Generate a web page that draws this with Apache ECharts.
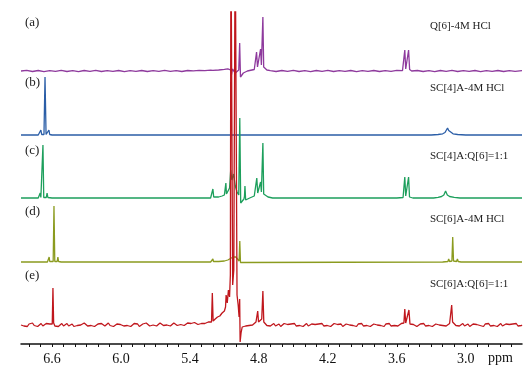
<!DOCTYPE html>
<html>
<head>
<meta charset="utf-8">
<script src="https://cdn.jsdelivr.net/npm/echarts@6/dist/echarts.min.js"></script>
<style>
  html, body { margin: 0; padding: 0; background: #fff; }
  #chart { width: 530px; height: 378px; }
</style>
</head>
<body>
<div id="chart"></div>
<script>
// chemical shift (ppm) / intensity pairs
var specA = [[6.87,0],[6.82,0.6],[6.77,-0.5],[6.72,0.5],[6.67,-0.6],[6.62,0.4],[6.57,-0.4],[6.52,0.6],[6.47,-0.5],[6.42,0.3],[6.37,-0.6],[6.32,0.5],[6.27,-0.3],[6.22,0.6],[6.17,-0.5],[6.12,0.4],[6.07,-0.4],[6.02,0.5],[5.97,-0.6],[5.92,0.4],[5.87,-0.3],[5.82,0.5],[5.77,-0.5],[5.72,0.4],[5.67,-0.4],[5.62,0.6],[5.57,-0.3],[5.52,0.4],[5.47,-0.5],[5.42,0.5],[5.37,0.1],[5.32,0.6],[5.27,0.3],[5.22,0.8],[5.21,1.8],[5.2,0.7],[5.15,1],[5.1,1.6],[5.07,2.2],[5.055,3.5],[5.045,1],[5.04,-5],[5.03,2],[5.015,4],[5.005,-2],[4.99,-1],[4.975,1],[4.967,28],[4.96,-6],[4.95,-4],[4.935,-2],[4.92,-1],[4.9,0],[4.88,0.5],[4.86,1],[4.84,1.5],[4.83,3],[4.82,19],[4.812,4],[4.8,6],[4.785,22],[4.778,6],[4.77,8],[4.765,54],[4.758,4],[4.745,2],[4.73,1],[4.7,0.3],[4.65,-0.5],[4.6,0.5],[4.55,-0.4],[4.5,0.6],[4.45,-0.5],[4.4,0.3],[4.35,-0.6],[4.3,0.5],[4.25,-0.3],[4.2,0.6],[4.15,-0.5],[4.1,0.4],[4.05,-0.4],[4.0,0.5],[3.95,-0.6],[3.9,0.4],[3.85,-0.3],[3.8,0.5],[3.75,-0.5],[3.7,0.4],[3.65,-0.4],[3.6,0.6],[3.55,0.4],[3.537,2],[3.53,21],[3.522,2],[3.505,2],[3.497,21],[3.488,1.5],[3.47,0],[3.42,0.5],[3.37,-0.5],[3.32,0.4],[3.27,-0.6],[3.22,0.5],[3.17,-0.3],[3.12,0.6],[3.07,-0.5],[3.02,0.4],[2.97,-0.4],[2.92,0.5],[2.87,-0.6],[2.82,0.4],[2.77,-0.3],[2.72,0.5],[2.67,-0.5],[2.62,0.4],[2.57,-0.4],[2.51,0.3]];

var specB = [[6.87,0],[6.72,0],[6.705,0.5],[6.697,5],[6.69,0.5],[6.67,0.5],[6.661,58],[6.652,0.5],[6.635,0.5],[6.627,5],[6.62,0.5],[6.6,0],[5.3,0],[5.21,0],[5.205,1.5],[5.198,0],[5.06,0],[5.045,2],[5.035,0],[4.5,0],[3.3,0],[3.24,0.5],[3.2,1.2],[3.18,2.5],[3.168,4.5],[3.158,7],[3.148,4.5],[3.135,2.5],[3.11,1.2],[3.07,0.5],[3.0,0],[2.51,0]];

var specC = [[6.87,0],[6.72,0],[6.708,0.5],[6.703,5],[6.697,0.5],[6.686,0.5],[6.679,53],[6.672,0.5],[6.65,0.5],[6.643,5],[6.636,0.5],[6.6,0],[5.4,0],[5.22,0],[5.207,1],[5.2,9],[5.193,1],[5.15,1],[5.12,2],[5.1,3],[5.092,4],[5.087,15],[5.082,4],[5.07,6],[5.055,10],[5.045,28],[5.035,18],[5.02,24],[5.005,12],[4.99,6],[4.975,3],[4.966,80],[4.958,-5],[4.945,-3],[4.93,-1],[4.925,2],[4.921,12],[4.915,-2],[4.9,-1],[4.88,0],[4.86,1],[4.84,2],[4.825,4],[4.818,20],[4.81,5],[4.795,6],[4.785,16],[4.778,6],[4.77,8],[4.765,55],[4.758,4],[4.745,2],[4.72,1],[4.68,0],[3.6,0],[3.545,0.5],[3.536,2],[3.53,21],[3.522,2],[3.505,2],[3.497,21],[3.489,1],[3.46,0],[3.28,0],[3.24,0.6],[3.21,1.5],[3.19,3],[3.175,7],[3.16,3],[3.14,1.5],[3.1,0.6],[3.05,0],[2.51,0]];

var specD = [[6.87,0],[6.64,0],[6.63,0.5],[6.625,5],[6.62,0.5],[6.59,0.5],[6.583,56],[6.576,0.5],[6.555,0.5],[6.549,5],[6.543,0.5],[6.52,0],[5.22,0],[5.205,0.5],[5.2,3],[5.195,0.5],[5.15,0.5],[5.1,1],[5.07,2],[5.04,4],[5.02,5],[5.0,5],[4.985,3],[4.972,1],[4.966,21],[4.96,-0.5],[4.95,0],[3.2,0],[3.155,0.5],[3.148,3],[3.14,0.5],[3.12,1],[3.113,25],[3.106,1],[3.08,0.5],[3.072,3],[3.065,0.5],[3.04,0],[2.51,0]];

var specE = [[6.87,0],[6.86,1.5],[6.845,-1],[6.83,0.5],[6.815,-1.5],[6.8,1],[6.785,0],[6.77,2],[6.755,-0.5],[6.74,1],[6.725,-1.5],[6.71,0.5],[6.695,1.5],[6.68,-1],[6.665,0],[6.65,1.5],[6.635,-0.5],[6.62,1],[6.605,2],[6.598,1],[6.592,37],[6.586,2],[6.575,-1],[6.56,1],[6.545,-1.5],[6.53,0.5],[6.515,1.5],[6.5,-1],[6.485,0.5],[6.47,1.5],[6.455,-1],[6.44,0],[6.425,1],[6.41,-1.5],[6.395,0.5],[6.38,-0.5],[6.365,1.5],[6.35,0],[6.335,-1],[6.32,2],[6.305,0],[6.29,-1],[6.275,1],[6.26,-0.5],[6.245,1.5],[6.23,-1.5],[6.215,0],[6.2,1],[6.185,-1],[6.17,1.5],[6.155,0],[6.14,-1],[6.125,0.5],[6.11,2],[6.095,-0.5],[6.08,0.5],[6.065,-1.5],[6.05,0],[6.035,1],[6.02,-1],[6.005,0.5],[5.99,1.5],[5.975,-1],[5.96,1],[5.945,-0.5],[5.93,0.5],[5.915,-1.5],[5.9,0.5],[5.885,1.5],[5.87,-0.5],[5.855,1],[5.84,-1.5],[5.825,0],[5.81,1],[5.795,-0.5],[5.78,2],[5.765,0],[5.75,-1],[5.735,1],[5.72,0],[5.705,1.5],[5.69,-1],[5.675,0.5],[5.66,2],[5.645,0],[5.63,-0.5],[5.615,1],[5.6,0],[5.585,1.5],[5.57,-1],[5.555,0.5],[5.54,2],[5.525,0.5],[5.51,-0.5],[5.495,1],[5.48,0.5],[5.465,2],[5.45,-0.5],[5.435,1],[5.42,2],[5.405,0.5],[5.39,1.5],[5.375,0.5],[5.36,2.5],[5.345,1],[5.33,0.5],[5.315,2],[5.3,1.5],[5.285,3],[5.27,1.5],[5.255,2.5],[5.24,3],[5.225,2],[5.212,3],[5.205,32],[5.198,4],[5.18,6],[5.16,8],[5.14,9],[5.12,12],[5.1,14],[5.09,18],[5.085,30],[5.075,22],[5.065,35],[5.055,28],[5.048,50],[5.043,400],[5.035,400],[5.028,40],[5.018,55],[5.006,400],[4.996,400],[4.99,30],[4.98,20],[4.972,8],[4.967,26],[4.963,-17],[4.955,-8],[4.945,-2],[4.93,0],[4.915,-1],[4.9,1],[4.885,-0.5],[4.87,1.5],[4.855,0],[4.84,1],[4.825,3],[4.81,14],[4.803,3],[4.79,4],[4.775,6],[4.765,34],[4.757,3],[4.745,1.5],[4.73,-0.5],[4.715,1],[4.7,-1],[4.685,0.5],[4.67,1.5],[4.655,-1],[4.64,0],[4.625,1],[4.61,-1.5],[4.595,0.5],[4.58,1.5],[4.565,-0.5],[4.55,0.5],[4.535,-1.5],[4.52,1],[4.505,0],[4.49,1.5],[4.475,-1],[4.46,0.5],[4.445,-0.5],[4.43,1],[4.415,-1.5],[4.4,0.5],[4.385,1.5],[4.37,-1],[4.355,0],[4.34,1],[4.325,-1],[4.31,0.5],[4.295,-1.5],[4.28,1],[4.265,0],[4.25,1.5],[4.235,-1],[4.22,0.5],[4.205,-0.5],[4.19,1],[4.175,-1.5],[4.16,0],[4.145,1.5],[4.13,-0.5],[4.115,0.5],[4.1,-1],[4.085,1],[4.07,-1.5],[4.055,0.5],[4.04,1],[4.025,-1],[4.01,0],[3.995,1.5],[3.98,-0.5],[3.965,0.5],[3.95,-1.5],[3.935,1],[3.92,0],[3.905,1.5],[3.89,-1],[3.875,0.5],[3.86,-0.5],[3.845,1],[3.83,-1.5],[3.815,0.5],[3.8,1],[3.785,-1],[3.77,0],[3.755,1.5],[3.74,-0.5],[3.725,0.5],[3.71,-1.5],[3.695,1],[3.68,0],[3.665,1.5],[3.65,-1],[3.635,0.5],[3.62,-0.5],[3.605,1],[3.59,-1],[3.575,0.5],[3.56,1.5],[3.545,0.5],[3.538,2],[3.53,16],[3.522,2],[3.505,2],[3.494,15],[3.485,1],[3.47,-1],[3.455,0.5],[3.44,1],[3.425,-1.5],[3.41,0],[3.395,1],[3.38,-0.5],[3.365,1.5],[3.35,-1],[3.335,0.5],[3.32,-0.5],[3.305,1],[3.29,-1.5],[3.275,0.5],[3.26,1],[3.245,-1],[3.23,0],[3.215,1.5],[3.2,-0.5],[3.185,0.5],[3.17,-1],[3.155,1],[3.14,1.5],[3.13,3],[3.122,20],[3.114,3],[3.1,1],[3.085,-0.5],[3.07,1],[3.055,-1],[3.04,0.5],[3.025,1.5],[3.01,-1],[2.995,0],[2.98,1],[2.965,-1.5],[2.95,0.5],[2.935,1],[2.92,-1],[2.905,0.5],[2.89,1.5],[2.875,-0.5],[2.86,0],[2.845,-1.5],[2.83,1],[2.815,0],[2.8,1.5],[2.785,-1],[2.77,0.5],[2.755,-0.5],[2.74,1],[2.725,-1.5],[2.71,0.5],[2.695,1.5],[2.68,-1],[2.665,0],[2.65,1],[2.635,-1],[2.62,0.5],[2.605,-1.5],[2.59,1],[2.575,0],[2.56,1.5],[2.545,-1],[2.53,0.5],[2.515,-0.5],[2.51,0]];

var spectra = [specA, specB, specC, specD, specE];
var offsets = [273, 209, 146, 82, 19];
var colors = ['#8e3a9d', '#2b5ea7', '#1d9f5c', '#8b9b1f', '#c0171d'];
var letters = ['(a)', '(b)', '(c)', '(d)', '(e)'];
var names = ['Q[6]-4M HCl', 'SC[4]A-4M HCl', 'SC[4]A:Q[6]=1:1', 'SC[6]A-4M HCl', 'SC[6]A:Q[6]=1:1'];
var letterY = [24, 84, 152, 213, 277];
var nameY = [28, 90, 158, 221, 286];
var labelTicks = [6.6, 6.0, 5.4, 4.8, 4.2, 3.6, 3.0];
var minorTicks = [6.8, 6.7, 6.6, 6.5, 6.4, 6.3, 6.2, 6.1, 6.0, 5.9, 5.8, 5.7, 5.6, 5.5, 5.4, 5.3, 5.2, 5.1, 5.0, 4.9, 4.8, 4.7, 4.6, 4.5, 4.4, 4.3, 4.2, 4.1, 4.0, 3.9, 3.8, 3.7, 3.6, 3.5, 3.4, 3.3, 3.2, 3.1, 3.0, 2.9, 2.8, 2.7, 2.6];

var chart = echarts.init(document.getElementById('chart'));
var series = [];
var graphics = [];
for (var i = 0; i < spectra.length; i++) {
  var off = offsets[i];
  series.push({
    type: 'line',
    data: spectra[i].map(function (p) { return [p[0], p[1] + off]; }),
    showSymbol: false,
    clip: true,
    lineStyle: { color: colors[i], width: 1.3 },
    z: 2 + i
  });
  graphics.push({
    type: 'text', left: 25, top: letterY[i] - 8,
    style: { text: letters[i], font: '13px "Liberation Serif"', fill: '#222' }
  });
  graphics.push({
    type: 'text', left: 430, top: nameY[i] - 7,
    style: { text: names[i], font: '11px "Liberation Serif"', fill: '#222' }
  });
}
graphics.push({
  type: 'text', left: 488, top: 351,
  style: { text: 'ppm', font: '14px "Liberation Serif"', fill: '#111' }
});

chart.setOption({
  animation: false,
  backgroundColor: '#fff',
  grid: { left: 21, right: 8, top: 12, bottom: 34 },
  xAxis: {
    type: 'value',
    inverse: true,
    min: 2.51,
    max: 6.87,
    splitLine: { show: false },
    axisLine: { show: true, onZero: false, lineStyle: { color: '#111', width: 1.5 } },
    axisTick: { show: true, customValues: minorTicks, length: 3, lineStyle: { color: '#111', width: 1 } },
    axisLabel: { customValues: labelTicks, margin: 8, color: '#111', fontSize: 14, fontFamily: 'Liberation Serif',
      formatter: function (v) { return v.toFixed(1); } }
  },
  yAxis: {
    type: 'value', min: 0, max: 332, show: false
  },
  series: series,
  graphic: graphics
});
</script>
</body>
</html>
